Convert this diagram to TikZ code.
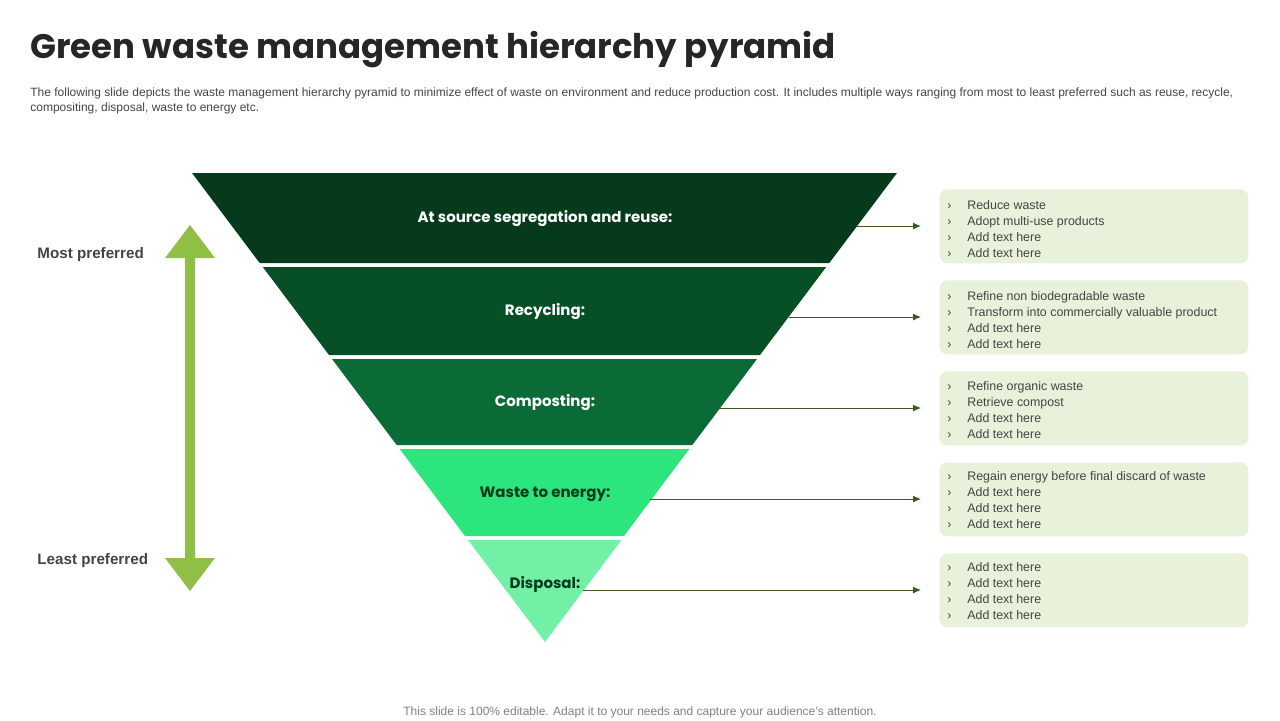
\documentclass[tikz,border=0pt]{standalone}
\usepackage{fontspec}
\setmainfont{Liberation Sans}
\newfontfamily\headfont{Poppins}
\usetikzlibrary{arrows.meta,positioning}
\definecolor{bandA}{HTML}{053A1C}
\definecolor{bandB}{HTML}{075026}
\definecolor{bandC}{HTML}{0B6B37}
\definecolor{bandD}{HTML}{2DE57D}
\definecolor{bandE}{HTML}{72F0A6}
\definecolor{boxfill}{HTML}{E8F1D9}
\definecolor{linkcol}{HTML}{3A5A2A}
\definecolor{bigarrow}{HTML}{8FBF45}
\definecolor{bodytext}{HTML}{444444}
\tikzset{
  bandlabel/.style={font=\headfont\bfseries\fontsize{7.5}{9}\selectfont,text=white},
  infobox/.style={fill=boxfill,rounded corners=4pt,minimum width=154.5pt,minimum height=37pt,anchor=north west,inner sep=0pt},
  infotext/.style={anchor=north west,align=left,text=bodytext,font=\fontsize{6.2}{8}\selectfont,inner sep=0pt},
  link/.style={linkcol,line width=0.5pt,-{Latex[length=4pt,width=3.5pt]}},
  sidelabel/.style={anchor=west,text=bodytext,font=\bfseries\fontsize{7.6}{9}\selectfont,inner sep=0pt}
}
\newcommand{\bul}{\makebox[10pt][l]{›}}
\begin{document}
\begin{tikzpicture}[x=0.5pt,y=-0.5pt]
\useasboundingbox (0,0) rectangle (1280,720);
% title and intro
\node[anchor=west,inner sep=0pt,font=\headfont\bfseries\fontsize{17}{20}\selectfont,text=black!85] (title) at (30,50) {Green waste management hierarchy pyramid};
\node[anchor=north west,inner sep=0pt,align=left,text=bodytext,font=\fontsize{6}{7.6}\selectfont] (intro) at (30,87) {The following slide depicts the waste management hierarchy pyramid to minimize effect of waste on environment and reduce production cost. It includes multiple ways ranging from most to least preferred such as reuse, recycle,\\compositing, disposal, waste to energy etc.};
% pyramid bands
\fill[bandA] (192,173) -- (897,173) -- (829.3,263) -- (259.7,263) -- cycle;
\fill[bandB] (262.8,267) -- (826.2,267) -- (760,355) -- (329,355) -- cycle;
\fill[bandC] (332,359) -- (757,359) -- (692.3,445) -- (396.7,445) -- cycle;
\fill[bandD] (399.7,449) -- (689.3,449) -- (624,536) -- (465,536) -- cycle;
\fill[bandE] (468,540) -- (621.5,540) -- (545,642) -- cycle;
\node[bandlabel] (reuse) at (545,219) {At source segregation and reuse:};
\node[bandlabel] (recycle) at (545,312) {Recycling:};
\node[bandlabel] (compost) at (545,403) {Composting:};
\node[bandlabel,text=bandA] (energy) at (545,494) {Waste to energy:};
\node[bandlabel,text=bandA] (disposal) at (545,584) {Disposal:};
% boxes
\node[infobox] (boxA) at (939,189) {};
\node[infobox] (boxB) at (939,280) {};
\node[infobox] (boxC) at (939,371) {};
\node[infobox] (boxD) at (939,462) {};
\node[infobox] (boxE) at (939,553) {};
\node[infotext] at (947,200) {\bul Reduce waste\\\bul Adopt multi-use products\\\bul Add text here\\\bul Add text here};
\node[infotext] at (947,291) {\bul Refine non biodegradable waste\\\bul Transform into commercially valuable product\\\bul Add text here\\\bul Add text here};
\node[infotext] at (947,381) {\bul Refine organic waste\\\bul Retrieve compost\\\bul Add text here\\\bul Add text here};
\node[infotext] at (947,471) {\bul Regain energy before final discard of waste\\\bul Add text here\\\bul Add text here\\\bul Add text here};
\node[infotext] at (947,562) {\bul Add text here\\\bul Add text here\\\bul Add text here\\\bul Add text here};
% links
\coordinate (endA) at (921,226);
\coordinate (endB) at (921,317);
\coordinate (endC) at (921,408);
\coordinate (endD) at (921,499);
\coordinate (endE) at (921,590);
\draw[link] (857,226) -- (endA);
\draw[link] (789,317) -- (endB);
\draw[link] (718,408) -- (endC);
\draw[link] (650,499) -- (endD);
\draw[link] (583,590) -- (endE);
% preference arrow
\fill[bigarrow] (190,225) -- (215,258) -- (195,258) -- (195,558) -- (215,558) -- (190,591) -- (165,558) -- (185,558) -- (185,258) -- (165,258) -- cycle;
\node[sidelabel] (most) at (37,255) {Most preferred};
\node[sidelabel] (least) at (37,561) {Least preferred};
% footer
\node[text=black!50,font=\fontsize{6}{7}\selectfont] (foot) at (640,712) {This slide is 100\% editable. Adapt it to your needs and capture your audience's attention.};
\end{tikzpicture}
\end{document}
